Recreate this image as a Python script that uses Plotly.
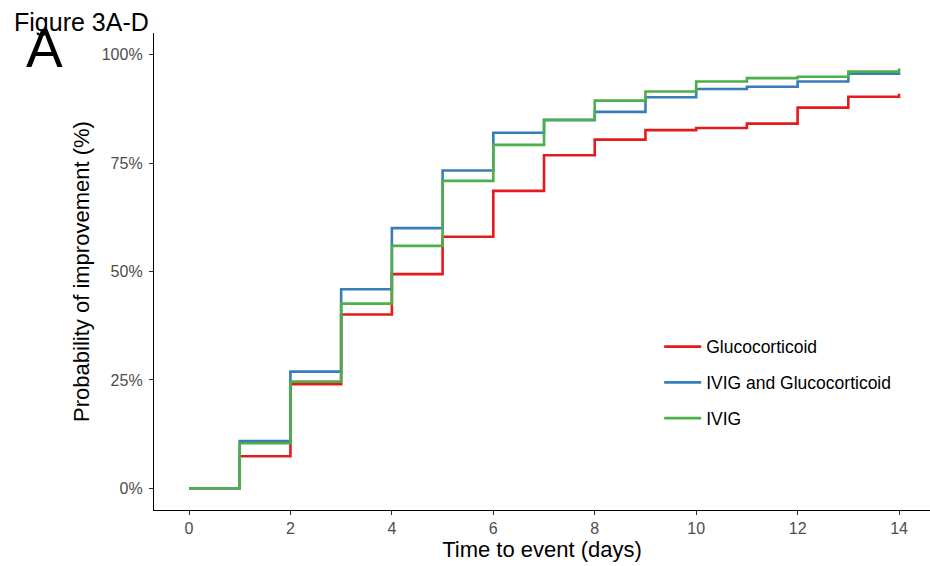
import plotly.graph_objects as go

# Cumulative probability of improvement (%) by day
days = list(range(15))
glucocorticoid = [0, 7.4, 24.0, 40.1, 49.4, 58.0, 68.6, 76.8, 80.4, 82.6, 83.1, 84.1, 87.8, 90.3, 91.0]
ivig_and_gluco = [0, 10.9, 26.9, 45.9, 60.0, 73.3, 82.0, 84.9, 86.8, 90.2, 92.1, 92.6, 93.8, 95.6, 95.8]
ivig = [0, 10.4, 24.6, 42.6, 55.9, 70.9, 79.2, 85.0, 89.4, 91.5, 93.8, 94.6, 94.9, 96.1, 96.8]

series_names = ["Glucocorticoid", "IVIG and Glucocorticoid", "IVIG"]
series_values = [glucocorticoid, ivig_and_gluco, ivig]
series_colors = ["#E41A1C", "#377EB8", "#4DAF4A"]

x_ticks = [0, 2, 4, 6, 8, 10, 12, 14]
y_ticks = [0, 25, 50, 75, 100]
y_tick_labels = ["0%", "25%", "50%", "75%", "100%"]

FONT = "Liberation Sans, Arial, sans-serif"

fig = go.Figure()
for name, vals, col in zip(series_names, series_values, series_colors):
    fig.add_trace(go.Scatter(
        x=days, y=vals, name=name, mode="lines",
        line=dict(color=col, width=2.6, shape="hv"),
        legendgroup=name,
    ))

fig.update_layout(
    width=930, height=566,
    margin=dict(l=154, r=0, t=33, b=56),
    paper_bgcolor="white", plot_bgcolor="white",
    font=dict(family=FONT, color="black"),
    showlegend=True,
    legend=dict(
        x=0.651, y=0.38, xanchor="left", yanchor="top",
        font=dict(family=FONT, size=17.5, color="black"),
        tracegroupgap=10, itemwidth=37, bgcolor="rgba(0,0,0,0)",
    ),
    xaxis=dict(
        range=[-0.69, 14.61], tickvals=x_ticks,
        showgrid=False, zeroline=False,
        showline=True, linecolor="black", linewidth=1.3,
        ticks="outside", ticklen=4, tickcolor="#333333", tickwidth=1.1,
        tickfont=dict(family=FONT, size=16, color="#4D4D4D"),
        title=dict(text="Time to event (days)", font=dict(family=FONT, size=22, color="black"), standoff=5),
    ),
    yaxis=dict(
        range=[-5, 105], tickvals=y_ticks, ticktext=y_tick_labels,
        showgrid=False, zeroline=False,
        showline=True, linecolor="black", linewidth=1.3,
        ticks="outside", ticklen=4, tickcolor="#333333", tickwidth=1.1,
        ticklabelstandoff=3,
        tickfont=dict(family=FONT, size=16, color="#4D4D4D"),
        title=dict(text="Probability of improvement (%)", font=dict(family=FONT, size=22, color="black"), standoff=6),
    ),
    annotations=[
        dict(text="Figure 3A-D", xref="paper", yref="paper", x=-142/776, y=1 + 11/477,
             xanchor="left", yanchor="middle", showarrow=False,
             font=dict(family=FONT, size=25, color="black")),
        dict(text="A", xref="paper", yref="paper", x=-130/776, y=1 - 15/477,
             xanchor="left", yanchor="middle", showarrow=False,
             font=dict(family=FONT, size=55, color="black")),
    ],
)

fig.write_html("out.html")
